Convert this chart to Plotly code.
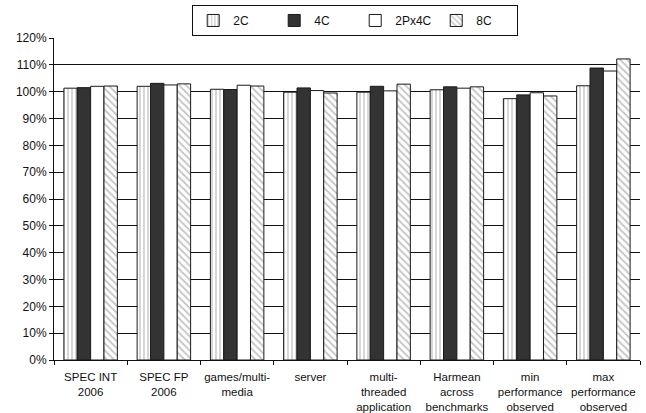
import plotly.graph_objects as go

categories = [
    "SPEC INT<br>2006",
    "SPEC FP<br>2006",
    "games/multi-<br>media",
    "server",
    "multi-<br>threaded<br>application",
    "Harmean<br>across<br>benchmarks",
    "min<br>performance<br>observed",
    "max<br>performance<br>observed",
]

series_names = ["2C", "4C", "2Px4C", "8C"]

vals_2c = [101.3, 102.0, 100.9, 99.8, 99.8, 100.7, 97.4, 102.2]
vals_4c = [101.5, 103.1, 100.8, 101.4, 102.0, 101.8, 98.8, 108.8]
vals_2px4c = [102.0, 102.5, 102.4, 100.4, 100.3, 101.3, 99.6, 107.7]
vals_8c = [102.1, 102.9, 102.1, 99.5, 102.8, 101.8, 98.4, 112.2]

y_ticks = list(range(0, 121, 10))
y_tick_labels = [f"{t}%" for t in y_ticks]

series_values = [vals_2c, vals_4c, vals_2px4c, vals_8c]
styles = [
    dict(color="white", pattern=dict(shape="|", fgcolor="#8a8a8a", bgcolor="white", size=4, solidity=0.35)),
    dict(color="#333333"),
    dict(color="white"),
    dict(color="white", pattern=dict(shape="\\", fgcolor="#8a8a8a", bgcolor="white", size=5, solidity=0.35)),
]

fig = go.Figure()
for name, vals, st in zip(series_names, series_values, styles):
    marker = dict(line=dict(color="#1a1a1a", width=1), **st)
    fig.add_trace(go.Bar(name=name, x=categories, y=vals, marker=marker))

fig.update_layout(
    width=646,
    height=413,
    margin=dict(l=54, r=6, t=38, b=53, autoexpand=False),
    barmode="group",
    bargap=0.27,
    bargroupgap=0,
    plot_bgcolor="white",
    paper_bgcolor="white",
    font=dict(family="Liberation Sans, Arial, sans-serif", size=12, color="#111111"),
    legend=dict(
        orientation="h",
        x=0.514,
        xanchor="center",
        y=0.988,
        yanchor="top",
        yref="container",
        bordercolor="#111111",
        borderwidth=1,
        itemwidth=30,
        entrywidth=36,
        font=dict(size=12),
        itemclick=False,
        tracegroupgap=0,
    ),
    showlegend=True,
)

fig.update_yaxes(
    range=[0, 120],
    tickvals=y_ticks,
    ticktext=y_tick_labels,
    showgrid=True,
    gridcolor="#111111",
    gridwidth=1,
    showline=True,
    linecolor="#111111",
    linewidth=1,
    ticks="outside",
    ticklen=4,
    tickcolor="#111111",
    zeroline=False,
    fixedrange=True,
)

fig.update_xaxes(
    showline=True,
    linecolor="#111111",
    linewidth=1,
    ticks="outside",
    tickson="boundaries",
    ticklen=4,
    tickcolor="#111111",
    tickangle=0,
    tickfont=dict(size=11.5),
    ticklabelstandoff=6,
    showgrid=False,
    fixedrange=True,
)

fig.write_html("out.html")
